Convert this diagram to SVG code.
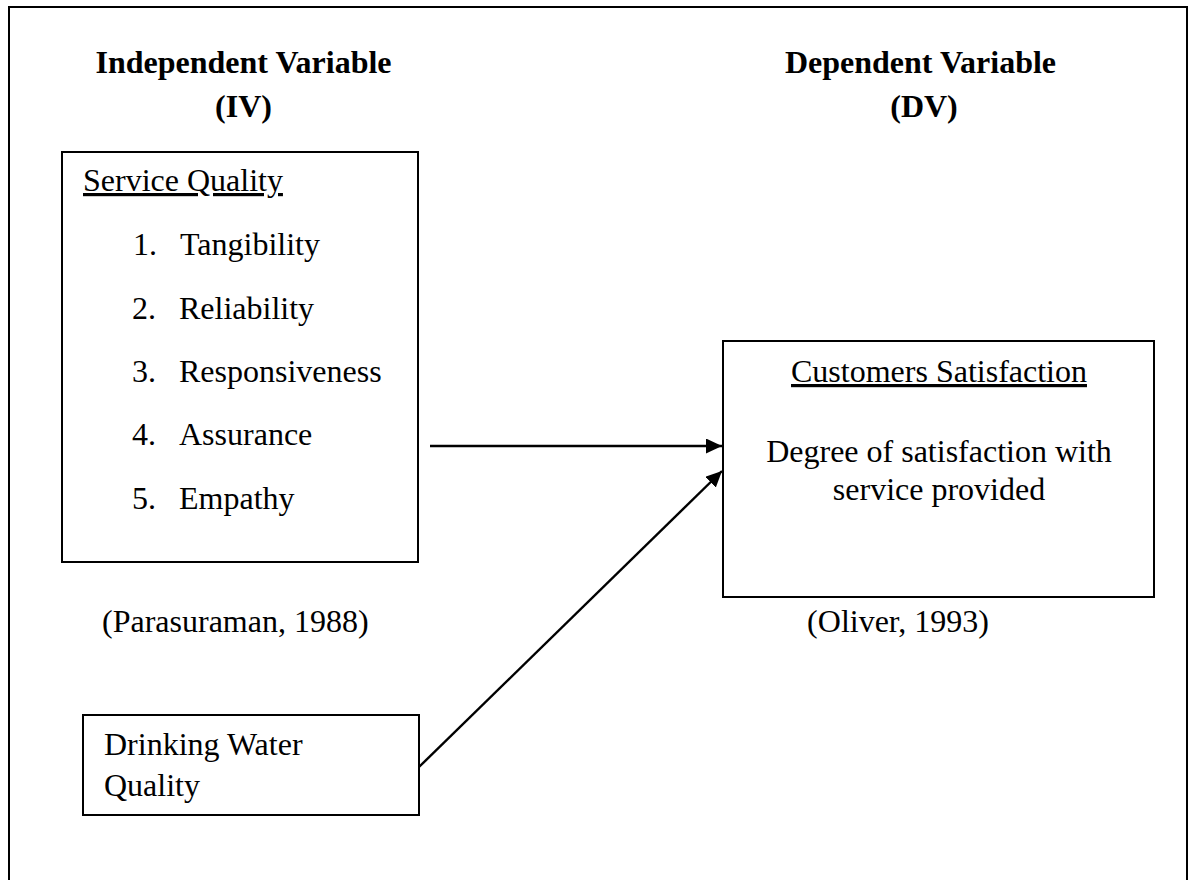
<svg xmlns="http://www.w3.org/2000/svg" width="1189" height="880" viewBox="0 0 1189 880">
<style>
  .frame { fill: none; stroke: #000; stroke-width: 2; }
  .box { fill: #fff; stroke: #000; stroke-width: 2; }
  .t { font-family: "Liberation Serif", "Times New Roman", serif; font-size: 32px; fill: #000; }
  .h { font-weight: bold; text-anchor: middle; }
  .c { text-anchor: middle; }
  .u { text-decoration: underline; }
  .conn { stroke: #000; stroke-width: 2.4; fill: none; }
</style>
<defs>
  <marker id="arrow" markerUnits="userSpaceOnUse" markerWidth="18" markerHeight="16" refX="16" refY="7.5" orient="auto">
    <path d="M0,0 L16,7.5 L0,15 z" fill="#000"/>
  </marker>
</defs>
<rect width="1189" height="880" fill="#fff"/>
<rect class="frame" x="9" y="7" width="1178" height="890"/>

<g id="iv-heading">
  <text class="t h" x="243.5" y="73">Independent Variable</text>
  <text class="t h" x="243.5" y="117">(IV)</text>
</g>
<g id="dv-heading">
  <text class="t h" x="920.5" y="73">Dependent Variable</text>
  <text class="t h" x="924" y="117">(DV)</text>
</g>

<g id="service-quality">
  <rect class="box" x="62" y="152" width="356" height="410"/>
  <text class="t u" x="83" y="191">Service Quality</text>
  <text class="t" x="133" y="255">1.</text><text class="t" x="180" y="255">Tangibility</text>
  <text class="t" x="132" y="318.5">2.</text><text class="t" x="179" y="318.5">Reliability</text>
  <text class="t" x="132" y="382">3.</text><text class="t" x="179" y="382">Responsiveness</text>
  <text class="t" x="132" y="445">4.</text><text class="t" x="179" y="445">Assurance</text>
  <text class="t" x="132" y="508.5">5.</text><text class="t" x="179" y="508.5">Empathy</text>
</g>
<text id="cite-parasuraman" class="t" x="102" y="632">(Parasuraman, 1988)</text>

<g id="drinking-water">
  <rect class="box" x="83" y="715" width="336" height="100"/>
  <text class="t" x="104" y="755">Drinking Water</text>
  <text class="t" x="104" y="796">Quality</text>
</g>

<g id="customer-satisfaction">
  <rect class="box" x="723" y="341" width="431" height="256"/>
  <text class="t c u" x="939" y="382">Customers Satisfaction</text>
  <text class="t c" x="939" y="462">Degree of satisfaction with</text>
  <text class="t c" x="939" y="500">service provided</text>
</g>
<text id="cite-oliver" class="t c" x="898" y="632">(Oliver, 1993)</text>

<g id="connectors">
  <line class="conn" x1="430" y1="446" x2="722" y2="446" marker-end="url(#arrow)"/>
  <line class="conn" x1="419" y1="767" x2="722" y2="471" marker-end="url(#arrow)"/>
</g>
</svg>
